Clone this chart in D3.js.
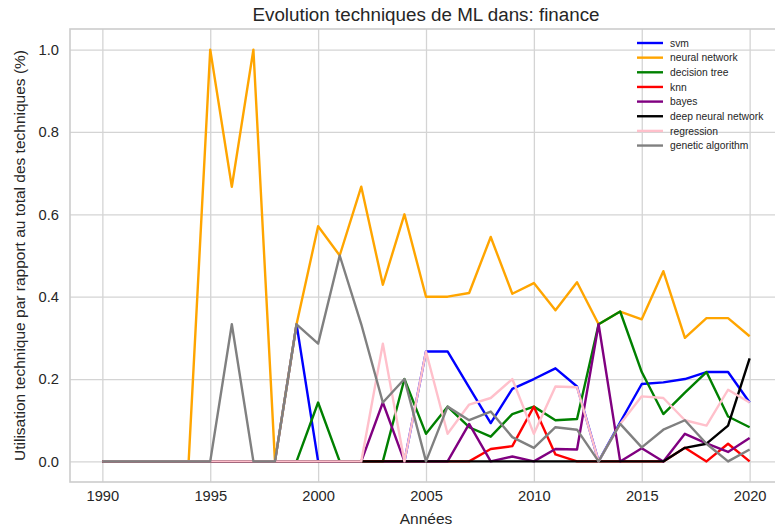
<!DOCTYPE html>
<html>
<head>
<meta charset="utf-8">
<script src="https://cdn.jsdelivr.net/npm/d3@7"></script>
<style>
  body { margin: 0; background: white; }
  svg { display: block; font-family: "Liberation Sans", Arial, sans-serif; }
</style>
</head>
<body>
<svg></svg>
<script>
(function() {

  var years = [1990, 1991, 1992, 1993, 1994, 1995, 1996, 1997, 1998, 1999,
               2000, 2001, 2002, 2003, 2004, 2005, 2006, 2007, 2008, 2009,
               2010, 2011, 2012, 2013, 2014, 2015, 2016, 2017, 2018, 2019, 2020];

  var svm = [0, 0, 0, 0, 0, 0, 0, 0, 0, 0.333,
             0, 0, 0, 0, 0, 0.267, 0.267, 0.18, 0.093, 0.176,
             0.2, 0.226, 0.182, 0, 0.095, 0.188, 0.192, 0.2, 0.217, 0.217, 0.143];
  var neuralNetwork = [0, 0, 0, 0, 0, 1, 0.667, 1, 0, 0.333,
             0.571, 0.5, 0.667, 0.429, 0.6, 0.4, 0.4, 0.409, 0.545, 0.407,
             0.433, 0.367, 0.435, 0.333, 0.364, 0.345, 0.462, 0.3, 0.348, 0.348, 0.304];
  var decisionTree = [0, 0, 0, 0, 0, 0, 0, 0, 0, 0,
             0.143, 0, 0, 0, 0.2, 0.067, 0.133, 0.083, 0.06, 0.115,
             0.133, 0.1, 0.103, 0.333, 0.364, 0.217, 0.115, 0.167, 0.217, 0.109, 0.083];
  var knn = [0, 0, 0, 0, 0, 0, 0, 0, 0, 0,
             0, 0, 0, 0, 0, 0, 0, 0, 0.03, 0.037,
             0.133, 0.017, 0, 0, 0, 0, 0, 0.033, 0, 0.043, 0];
  var bayes = [0, 0, 0, 0, 0, 0, 0, 0, 0, 0,
             0, 0, 0, 0.143, 0, 0, 0, 0.091, 0, 0.012,
             0, 0.03, 0.029, 0.333, 0, 0.032, 0, 0.067, 0.044, 0.023, 0.057];
  var deepNeuralNetwork = [0, 0, 0, 0, 0, 0, 0, 0, 0, 0,
             0, 0, 0, 0, 0, 0, 0, 0, 0, 0,
             0, 0, 0, 0, 0, 0, 0, 0.033, 0.043, 0.087, 0.25];
  var regression = [0, 0, 0, 0, 0, 0, 0, 0, 0, 0,
             0, 0, 0, 0.286, 0, 0.267, 0.067, 0.138, 0.154, 0.2,
             0.067, 0.182, 0.18, 0, 0.091, 0.158, 0.154, 0.1, 0.087, 0.174, 0.143];
  var geneticAlgorithm = [0, 0, 0, 0, 0, 0, 0.333, 0, 0, 0.333,
             0.286, 0.5, 0.333, 0.143, 0.2, 0, 0.133, 0.1, 0.121, 0.059,
             0.033, 0.083, 0.077, 0, 0.091, 0.034, 0.077, 0.1, 0.043, 0, 0.029];

  var seriesNames = ['svm', 'neural network', 'decision tree', 'knn', 'bayes',
                     'deep neural network', 'regression', 'genetic algorithm'];
  var seriesValues = [svm, neuralNetwork, decisionTree, knn, bayes,
                      deepNeuralNetwork, regression, geneticAlgorithm];
  var seriesColors = ['blue', 'orange', 'green', 'red', 'purple', 'black', 'pink', 'gray'];

  var xTicks = [1990, 1995, 2000, 2005, 2010, 2015, 2020];
  var yTicks = [0, 0.2, 0.4, 0.6, 0.8, 1.0];

  var width = 775, height = 528;
  var margin = {top: 29, right: -7, bottom: 46, left: 70},
      chartWidth = width - margin.left - margin.right,
      chartHeight = height - margin.top - margin.bottom;

  var svg = d3.select('svg')
      .attr('width', width)
      .attr('height', height);

  var chart = svg.append('g')
      .attr('transform', 'translate(' + margin.left + ',' + margin.top + ')');

  var xScale = d3.scaleLinear()
      .domain([1988.5, 2021.5])
      .range([0, chartWidth]);

  var yScale = d3.scaleLinear()
      .domain([-0.05, 1.05])
      .range([chartHeight, 0]);

  // grid
  chart.append('g')
    .attr('transform', 'translate(0,' + chartHeight + ')')
    .call(d3.axisBottom(xScale).tickValues(xTicks).tickSize(-chartHeight).tickFormat(d3.format('d')).tickPadding(9))
    .call(function(g) {
      g.select('.domain').remove();
      g.selectAll('.tick line').attr('stroke', '#d4d4d4').attr('stroke-width', 1.3);
      g.selectAll('.tick text').attr('fill', '#262626').style('font-size', '14.7px');
    });

  chart.append('g')
    .call(d3.axisLeft(yScale).tickValues(yTicks).tickSize(-chartWidth).tickFormat(d3.format('.1f')).tickPadding(11))
    .call(function(g) {
      g.select('.domain').remove();
      g.selectAll('.tick line').attr('stroke', '#d4d4d4').attr('stroke-width', 1.3);
      g.selectAll('.tick text').attr('fill', '#262626').style('font-size', '14.7px');
    });

  // frame
  chart.append('rect')
    .attr('width', chartWidth)
    .attr('height', chartHeight)
    .attr('fill', 'none')
    .attr('stroke', '#cccccc')
    .attr('stroke-width', 1.6);

  var lineGenerator = d3.line()
      .x(function(d, i) { return xScale(years[i]); })
      .y(function(d) { return yScale(d); });

  chart.selectAll('.line')
    .data(seriesValues)
    .enter()
    .append('path')
      .attr('class', 'line')
      .attr('d', function(d) { return lineGenerator(d); })
      .attr('fill', 'none')
      .attr('stroke', function(d, i) { return seriesColors[i]; })
      .attr('stroke-width', 2.4)
      .attr('stroke-linejoin', 'round');

  // legend
  var legend = svg.append('g')
      .attr('transform', 'translate(637,43)');

  var item = legend.selectAll('.item')
    .data(seriesNames)
    .enter()
    .append('g')
      .attr('class', 'item')
      .attr('transform', function(d, i) { return 'translate(0,' + (i * 14.65) + ')'; });

  item.append('line')
    .attr('x1', 0).attr('x2', 26)
    .attr('stroke', function(d, i) { return seriesColors[i]; })
    .attr('stroke-width', 2.4);

  item.append('text')
    .attr('x', 33)
    .attr('dy', '0.35em')
    .attr('fill', '#262626')
    .style('font-size', '10.3px')
    .text(function(d) { return d; });

  // title and labels
  svg.append('text')
    .attr('x', margin.left + chartWidth / 2)
    .attr('y', 21)
    .attr('text-anchor', 'middle')
    .attr('fill', '#262626')
    .style('font-size', '18.8px')
    .text('Evolution techniques de ML dans: finance');

  svg.append('text')
    .attr('x', margin.left + chartWidth / 2)
    .attr('y', 524)
    .attr('text-anchor', 'middle')
    .attr('fill', '#262626')
    .style('font-size', '15.5px')
    .text('Années');

  svg.append('text')
    .attr('transform', 'translate(25,' + (margin.top + chartHeight / 2) + ') rotate(-90)')
    .attr('text-anchor', 'middle')
    .attr('fill', '#262626')
    .style('font-size', '15.5px')
    .text('Utilisation technique par rapport au total des techniques (%)');

})()
</script>
</body>
</html>
